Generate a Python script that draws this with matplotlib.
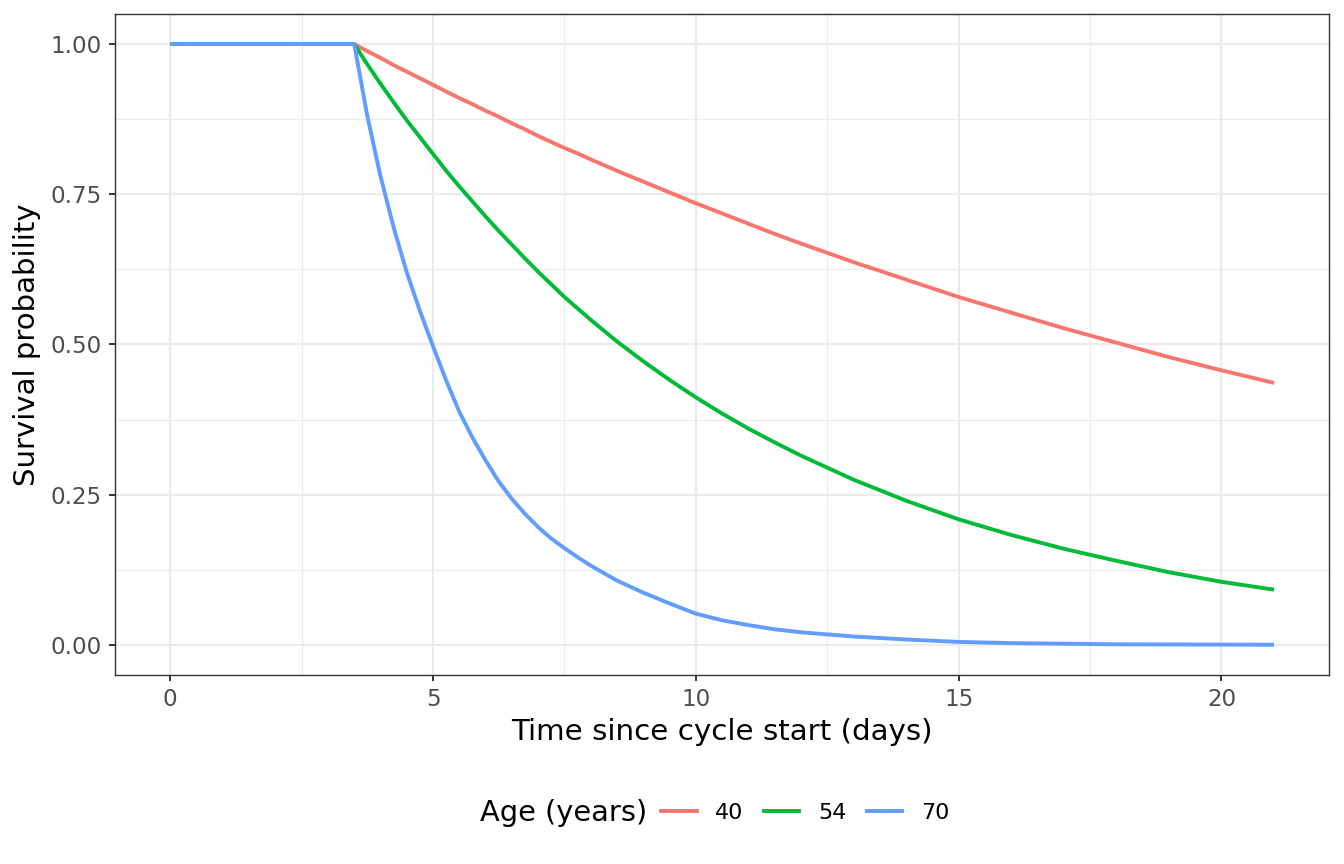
import matplotlib.pyplot as plt
from matplotlib.lines import Line2D

# time grid (days) and survival
days = [0, 3.5, 3.75, 4, 4.25, 4.5, 4.75, 5, 5.25, 5.5, 5.75, 6, 6.25, 6.5,
        6.75, 7, 7.25, 7.5, 7.75, 8, 8.5, 9, 9.5, 10, 10.5, 11, 11.5, 12,
        13, 14, 15, 16, 17, 18, 19, 20, 21]

surv_40 = [1.0, 1.0, 0.988, 0.977, 0.965, 0.954, 0.943, 0.932, 0.921, 0.910,
           0.900, 0.889, 0.879, 0.868, 0.858, 0.847, 0.837, 0.827, 0.818,
           0.808, 0.789, 0.771, 0.753, 0.735, 0.718, 0.701, 0.684, 0.668,
           0.637, 0.608, 0.579, 0.553, 0.527, 0.503, 0.479, 0.457, 0.436]
surv_54 = [1.0, 1.0, 0.966, 0.934, 0.903, 0.873, 0.845, 0.817, 0.789, 0.763,
           0.738, 0.713, 0.689, 0.666, 0.643, 0.621, 0.600, 0.579, 0.560,
           0.541, 0.505, 0.472, 0.441, 0.412, 0.385, 0.360, 0.337, 0.315,
           0.275, 0.240, 0.209, 0.183, 0.160, 0.140, 0.121, 0.105, 0.092]
surv_70 = [1.0, 1.0, 0.880, 0.780, 0.695, 0.620, 0.556, 0.497, 0.440, 0.388,
           0.345, 0.307, 0.272, 0.243, 0.218, 0.196, 0.177, 0.161, 0.146,
           0.132, 0.107, 0.087, 0.069, 0.052, 0.041, 0.033, 0.026, 0.021,
           0.014, 0.009, 0.005, 0.003, 0.002, 0.001, 0.0008, 0.0005, 0.0003]

ages = ['40', '54', '70']
colors = ['#F8766D', '#00BA38', '#619CFF']

fig = plt.figure(figsize=(13.44, 8.64), dpi=100)
fig.patch.set_facecolor('white')
ax = fig.add_axes([0.0856, 0.2188, 0.9034, 0.765])

for y, c, lab in zip([surv_40, surv_54, surv_70], colors, ages):
    ax.plot(days, y, color=c, linewidth=2.8, label=lab, solid_capstyle='butt',
            solid_joinstyle='round', zorder=3)

ax.set_xlim(-1.05, 22.05)
ax.set_ylim(-0.05, 1.05)
ax.set_xticks([0, 5, 10, 15, 20])
ax.set_yticks([0, 0.25, 0.5, 0.75, 1.0])
ax.set_yticklabels(['0.00', '0.25', '0.50', '0.75', '1.00'])
ax.set_xticks([2.5, 7.5, 12.5, 17.5], minor=True)
ax.set_yticks([0.125, 0.375, 0.625, 0.875], minor=True)
ax.grid(which='major', color='#EBEBEB', linewidth=1.6, zorder=0)
ax.grid(which='minor', color='#EBEBEB', linewidth=0.8, zorder=0)
ax.set_axisbelow(True)
ax.tick_params(which='minor', length=0)
ax.tick_params(which='major', length=4, width=1.4, color='#333333',
               labelcolor='#4D4D4D', labelsize=16.6, pad=5.5)
for s in ax.spines.values():
    s.set_color('#333333')
    s.set_linewidth(1.0)

ax.set_xlabel('Time since cycle start (days)', fontsize=21.2, labelpad=5)
ax.set_ylabel('Survival probability', fontsize=21, labelpad=7)

# legend at the bottom, title on the left like ggplot
fig.text(0.357, 0.0595, 'Age (years)', fontsize=20.8, va='center', ha='left')
handles = [Line2D([0], [0], color=c, linewidth=2.8) for c in colors]
fig.legend(handles, ages, loc='center left', bbox_to_anchor=(0.4918, 0.0595),
           ncol=3, frameon=False, fontsize=16, handlelength=1.6,
           handletextpad=0.85, columnspacing=0.9, borderpad=0, borderaxespad=0)

fig.savefig('out.png', dpi=100)
